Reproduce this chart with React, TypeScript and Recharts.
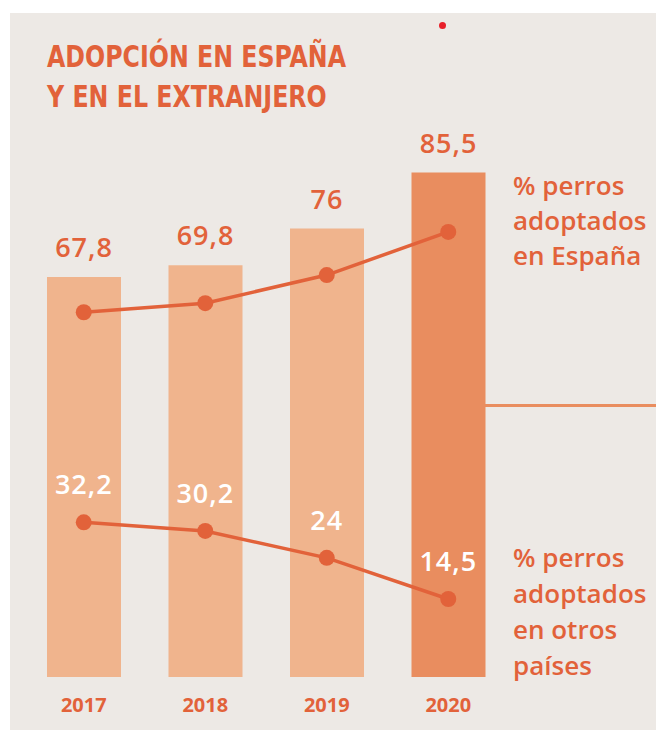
import React from "react";
import { ComposedChart, Bar, Line, XAxis, YAxis, LabelList, Cell } from "recharts";

// values
const years = ["2017", "2018", "2019", "2020"];
const espana = [67.8, 69.8, 76, 85.5];
const extranjero = [32.2, 30.2, 24, 14.5];

const data = years.map((year, i) => ({
  year,
  espana: espana[i],
  extranjero: extranjero[i],
}));

const ORANGE = "#e2623a";
const BAR_LIGHT = "#f0b48d";
const BAR_DARK = "#e98d5f";
const BG = "#ede9e5";
const SANS = '"Open Sans", "DejaVu Sans", sans-serif';
const NARROW = '"Liberation Sans Narrow", "DejaVu Sans Condensed", sans-serif';

const fmt = (v: any) => String(v).replace(".", ",");

const BarValue = (props: any) => {
  const { x, y, width, value } = props;
  return (
    <text
      x={x + width / 2}
      y={y - 20}
      textAnchor="middle"
      fill={ORANGE}
      fontFamily={SANS}
      fontWeight={600}
      fontSize={27}
      letterSpacing={1}
    >
      {fmt(value)}
    </text>
  );
};

const ExtValue = (props: any) => {
  const { x, y, value } = props;
  return (
    <text
      x={x}
      y={y - 28}
      textAnchor="middle"
      fill="#ffffff"
      fontFamily={SANS}
      fontWeight={600}
      fontSize={27}
      letterSpacing={1}
    >
      {fmt(value)}
    </text>
  );
};

const YearTick = (props: any) => {
  const { x, y, payload } = props;
  return (
    <text
      x={x}
      y={y + 27}
      textAnchor="middle"
      fill={ORANGE}
      fontFamily={SANS}
      fontWeight={700}
      fontSize={20}
    >
      {payload.value}
    </text>
  );
};

const sideText: React.CSSProperties = {
  position: "absolute",
  left: 513,
  color: ORANGE,
  fontFamily: SANS,
  fontWeight: 600,
  fontSize: 26,
};

export default function App() {
  return (
    <div
      style={{
        position: "absolute",
        left: 0,
        top: 0,
        width: 656,
        height: 733,
        background: "#ffffff",
        overflow: "hidden",
      }}
    >
      <div
        style={{
          position: "absolute",
          left: 10,
          top: 13,
          width: 646,
          height: 717,
          background: BG,
        }}
      />
      <div
        style={{
          position: "absolute",
          left: 439,
          top: 22,
          width: 7,
          height: 7,
          borderRadius: "50%",
          background: "#e8202a",
        }}
      />
      <div
        style={{
          position: "absolute",
          left: 47,
          top: 36,
          color: ORANGE,
          fontFamily: NARROW,
          fontWeight: 700,
          fontSize: 31,
          lineHeight: "40px",
          whiteSpace: "nowrap",
          transform: "scaleX(0.85)",
          transformOrigin: "left top",
        }}
      >
        ADOPCIÓN EN ESPAÑA
        <br />Y EN EL EXTRANJERO
      </div>

      <div style={{ position: "absolute", left: 0, top: 0 }}>
        <ComposedChart
          width={656}
          height={733}
          data={data}
          margin={{ top: 87, right: 147, bottom: 16, left: 23 }}
        >
          <XAxis
            dataKey="year"
            axisLine={false}
            tickLine={false}
            height={40}
            tick={<YearTick />}
          />
          <YAxis yAxisId="bars" hide domain={[0, 100]} />
          <YAxis yAxisId="esp" hide domain={[-12.6, 117.45]} />
          <YAxis yAxisId="ext" hide domain={[-3.5, 132.65]} />
          <Bar
            yAxisId="bars"
            dataKey="espana"
            barSize={74}
            isAnimationActive={false}
          >
            {data.map((d, i) => (
              <Cell key={d.year} fill={i === data.length - 1 ? BAR_DARK : BAR_LIGHT} />
            ))}
            <LabelList dataKey="espana" content={<BarValue />} />
          </Bar>
          <Line
            yAxisId="esp"
            dataKey="espana"
            stroke={ORANGE}
            strokeWidth={3.5}
            dot={{ r: 8, fill: ORANGE, stroke: "none" }}
            activeDot={false}
            isAnimationActive={false}
          />
          <Line
            yAxisId="ext"
            dataKey="extranjero"
            stroke={ORANGE}
            strokeWidth={3.5}
            dot={{ r: 8, fill: ORANGE, stroke: "none" }}
            activeDot={false}
            isAnimationActive={false}
          >
            <LabelList dataKey="extranjero" content={<ExtValue />} />
          </Line>
        </ComposedChart>
      </div>

      <div
        style={{
          position: "absolute",
          left: 484,
          top: 404,
          width: 172,
          height: 3,
          background: BAR_DARK,
        }}
      />
      <div style={{ ...sideText, top: 168, lineHeight: "35px" }}>
        % perros
        <br />
        adoptados
        <br />
        en España
      </div>
      <div style={{ ...sideText, top: 539, lineHeight: "36px" }}>
        % perros
        <br />
        adoptados
        <br />
        en otros
        <br />
        países
      </div>
    </div>
  );
}
